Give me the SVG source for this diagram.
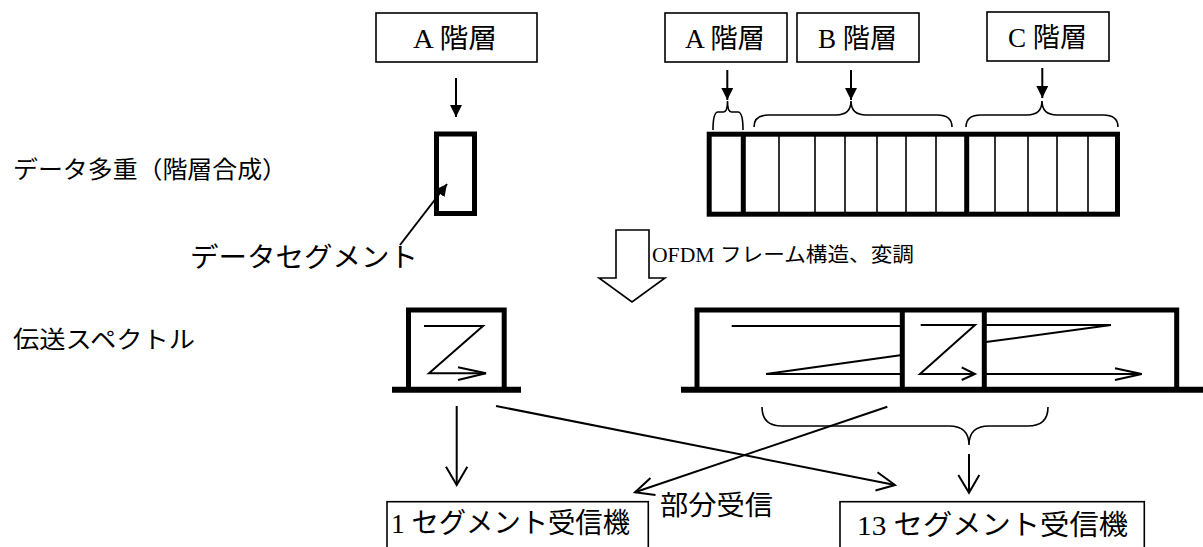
<svg xmlns="http://www.w3.org/2000/svg" width="1203" height="547" viewBox="0 0 1203 547">
<style>
.bg{fill:#fff}
.box{fill:#fff;stroke:#000;stroke-width:1.6}
.thick{fill:none;stroke:#000;stroke-width:5}
.base{fill:none;stroke:#000;stroke-width:6}
.thin{fill:none;stroke:#000;stroke-width:1.6}
.ln{fill:none;stroke:#000;stroke-width:2}
.ser{font-family:"Liberation Serif","Noto Sans CJK JP",serif;font-size:27px;fill:#000}
.san{font-family:"Noto Sans CJK JP","Noto Sans",sans-serif;font-size:24px;fill:#000}
</style>
<defs>
<marker id="tri" markerWidth="12" markerHeight="12" refX="10" refY="5" orient="auto" markerUnits="userSpaceOnUse" viewBox="0 0 10 10">
<path d="M0,0 L10,5 L0,10 Z" fill="#000"/>
</marker>
</defs>
<rect class="bg" x="0" y="0" width="1203" height="547"/>

<g id="label-multiplex"><text class="san" x="13" y="178" textLength="274" lengthAdjust="spacingAndGlyphs">データ多重（階層合成）</text></g>
<g id="label-spectrum"><text class="san" x="13" y="348" textLength="182" lengthAdjust="spacingAndGlyphs">伝送スペクトル</text></g>
<g id="label-segment"><text class="san" style="font-size:27px" x="190" y="267" textLength="228" lengthAdjust="spacingAndGlyphs">データセグメント</text></g>

<g id="layerA-left">
<rect class="box" x="376" y="13" width="161" height="49"/>
<text class="ser" x="413" y="48" textLength="84" lengthAdjust="spacingAndGlyphs">A 階層</text>
</g>
<g id="layerA-right">
<rect class="box" x="665" y="13" width="122" height="49"/>
<text class="ser" x="685" y="48" textLength="80" lengthAdjust="spacingAndGlyphs">A 階層</text>
</g>
<g id="layerB">
<rect class="box" x="797" y="13" width="122" height="49"/>
<text class="ser" x="818" y="48" textLength="79" lengthAdjust="spacingAndGlyphs">B 階層</text>
</g>
<g id="layerC">
<rect class="box" x="987" y="12" width="122" height="49"/>
<text class="ser" x="1008" y="47" textLength="79" lengthAdjust="spacingAndGlyphs">C 階層</text>
</g>

<g id="segment-single">
<rect class="thick" x="436.5" y="134" width="38" height="79.5"/>
</g>

<g id="segment-bar">
<rect class="thick" x="709.2" y="134.2" width="408.3" height="80"/>
<line class="thick" x1="743.3" y1="134" x2="743.3" y2="214"/>
<line class="thick" x1="966.7" y1="134" x2="966.7" y2="214"/>
<path class="thin" d="M779,134V214M815,134V214M845,134V214M877,134V214M906,134V214M936,134V214M995,134V214M1028,134V214M1057,134V214M1088,134V214"/>
</g>

<g id="ofdm-arrow">
<polygon points="616,230 649,230 649,278 665,278 632,302 599,278 616,278" fill="#fff" stroke="#000" stroke-width="1.6"/>
<text class="ser" style="font-size:20px" x="652" y="262" textLength="262" lengthAdjust="spacingAndGlyphs">OFDM フレーム構造、変調</text>
</g>

<g id="spectrum-1seg">
<path class="thick" d="M408.5,389V310H504.2V389"/>
<line class="base" x1="392" y1="389.7" x2="521" y2="389.7"/>
<polyline class="ln" points="424,326 483,326 429,373.3 486,373.3"/>
<polyline class="ln" points="458,367.3 486,373.3 458,380"/>
</g>

<g id="spectrum-13seg">
<path class="thick" d="M697,389V310H1176.7V389"/>
<line class="thick" x1="902.3" y1="310" x2="902.3" y2="389"/>
<line class="thick" x1="984.3" y1="310" x2="984.3" y2="389"/>
<line class="base" x1="681" y1="389.7" x2="1203" y2="389.7"/>
<path class="ln" d="M731.7,326H902M766,374H902M766,374L902,355"/>
<polyline class="ln" points="920.7,325 975,325 920,374 975,374"/>
<polyline class="ln" points="961.7,367.3 975,374 961.7,380"/>
<path class="ln" d="M984,342.3L1111,325M984,325H1111M984,374H1141.7"/>
<polyline class="ln" points="1115,368.3 1141.7,374 1115,380"/>
</g>

<g id="receiver-1seg">
<rect class="box" x="387" y="501.7" width="261.3" height="60"/>
<text class="ser" style="font-size:28px" x="391" y="533" textLength="239" lengthAdjust="spacingAndGlyphs">1 セグメント受信機</text>
</g>
<g id="receiver-13seg">
<rect class="box" x="840" y="501.7" width="304.3" height="60"/>
<text class="ser" style="font-size:28px" x="857" y="535" textLength="271" lengthAdjust="spacingAndGlyphs">13 セグメント受信機</text>
</g>
<g id="label-partial"><text class="san" style="font-size:27px" x="660" y="515" textLength="113" lengthAdjust="spacingAndGlyphs">部分受信</text></g>

<g id="connectors">
<line class="ln" x1="456" y1="78" x2="456" y2="117" marker-end="url(#tri)"/>
<line class="ln" x1="727.3" y1="70" x2="727.3" y2="100" marker-end="url(#tri)"/>
<line class="ln" x1="851" y1="70" x2="851" y2="100" marker-end="url(#tri)"/>
<line class="ln" x1="1042.3" y1="68" x2="1042.3" y2="98" marker-end="url(#tri)"/>
<path class="thin" d="M713,130Q713,112 718,112L723.5,112Q727.5,112 727.5,101Q727.5,112 731.5,112L738,112Q743,112 743,130"/>
<path class="thin" d="M754,127Q754,115 769,115L836,115Q851,115 851,101Q851,115 866,115L937,115Q952,115 952,127"/>
<path class="thin" d="M966,127Q966,115 981,115L1027,115Q1042,115 1042,101Q1042,115 1057,115L1103,115Q1118,115 1118,127"/>
<line class="ln" x1="400" y1="245" x2="447" y2="184" marker-end="url(#tri)"/>
<line class="ln" x1="456.7" y1="406" x2="456.7" y2="485"/>
<polyline class="ln" points="446,466.7 456.7,485 467.3,466.7"/>
<line class="ln" x1="496" y1="406" x2="895" y2="485"/>
<polyline class="ln" points="877.5,472.2 895,485 875.5,490.5"/>
<line class="ln" x1="887.3" y1="406.7" x2="635" y2="492.3"/>
<polyline class="ln" points="650.5,478 635,492.3 655.5,495"/>
<path class="thin" d="M762,407Q762,426 782,426L949,426Q969,426 969,445Q969,426 989,426L1028,426Q1048,426 1048,407"/>
<line class="ln" x1="969" y1="454" x2="969" y2="492.7"/>
<polyline class="ln" points="958.3,475 969,492.7 979.3,475"/>
</g>
</svg>
